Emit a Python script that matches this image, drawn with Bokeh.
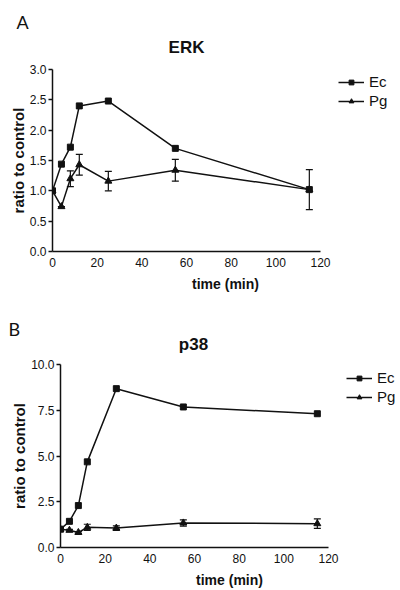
from bokeh.plotting import figure
from bokeh.models import (ColumnDataSource, Whisker, TeeHead, Legend, LegendItem,
                          Label, FixedTicker, NumeralTickFormatter)
from bokeh.layouts import column
from bokeh.embed import file_html
from bokeh.resources import INLINE

# ---------------- data ----------------
time_min = [0, 4, 8, 12, 25, 55, 115]

erk_ec = [1.00, 1.44, 1.72, 2.40, 2.48, 1.70, 1.02]
erk_pg = [1.00, 0.74, 1.20, 1.43, 1.16, 1.34, 1.02]
erk_pg_err = [0.0, 0.0, 0.13, 0.17, 0.16, 0.18, 0.33]

p38_ec = [1.00, 1.43, 2.29, 4.68, 8.68, 7.68, 7.31]
p38_pg = [1.00, 0.94, 0.82, 1.10, 1.06, 1.34, 1.30]
p38_pg_err = [0.0, 0.05, 0.05, 0.17, 0.12, 0.17, 0.26]

x_ticks = [0, 20, 40, 60, 80, 100, 120]
erk_y_ticks = [0.0, 0.5, 1.0, 1.5, 2.0, 2.5, 3.0]
p38_y_ticks = [0.0, 2.5, 5.0, 7.5, 10.0]

series_names = ["Ec", "Pg"]
panel_letters = ["A", "B"]
panel_titles = ["ERK", "p38"]

FONT = "Liberation Sans"
INK = "#111111"
W = 398
X_MAX = 120


def make_header(letter, title, height, letter_xy, title_xy):
    h = figure(width=W, height=height, x_range=(0, 1), y_range=(0, 1),
               x_axis_type=None, y_axis_type=None,
               output_backend="svg", toolbar_location=None,
               min_border_left=0, min_border_right=0,
               min_border_top=0, min_border_bottom=0, frame_align=False)
    h.outline_line_color = None
    h.grid.grid_line_color = None
    h.add_layout(Label(x=letter_xy[0], y=letter_xy[1], x_units="screen", y_units="screen",
                       text=letter, text_font="Lato", text_font_size="18px",
                       text_baseline="alphabetic", text_color=INK))
    h.add_layout(Label(x=title_xy[0], y=title_xy[1], x_units="screen", y_units="screen",
                       text=title, text_font=FONT, text_font_style="bold",
                       text_font_size="17px", text_align="center",
                       text_baseline="alphabetic", text_color=INK))
    return h


def make_panel(ec, pg, pg_err, y_ticks, y_max, height, left, axis_right,
               top, bottom, ylab_standoff, legend_xy):
    # frame spans to the figure's right edge; the x axis line stops at 120
    x_end = X_MAX * (W - left) / (axis_right - left)
    p = figure(width=W, height=height, x_range=(0, x_end), y_range=(0, y_max),
               output_backend="svg", toolbar_location=None,
               min_border_left=left, min_border_right=0,
               min_border_top=top, min_border_bottom=bottom, frame_align=False)
    p.outline_line_color = None
    p.grid.grid_line_color = None
    p.background_fill_color = "white"
    p.border_fill_color = "white"

    for ax in (p.xaxis[0], p.yaxis[0]):
        ax.axis_line_color = INK
        ax.axis_line_width = 1.5
        ax.major_tick_line_color = INK
        ax.major_tick_line_width = 1.5
        ax.minor_tick_line_color = None
        ax.major_label_text_font = FONT
        ax.major_label_text_font_size = "12px"
        ax.major_label_text_color = INK
        ax.axis_label_text_font = FONT
        ax.axis_label_text_font_style = "bold"
        ax.axis_label_text_font_size = "15px"
        ax.axis_label_text_color = INK

    p.xaxis.bounds = (0, X_MAX)
    p.xaxis.ticker = FixedTicker(ticks=x_ticks)
    p.xaxis.major_tick_out = 0
    p.xaxis.major_tick_in = 0
    p.xaxis.major_label_standoff = 6
    p.xaxis.axis_label = "time (min)"
    p.xaxis.axis_label_text_font_size = "14px"
    p.xaxis.axis_label_standoff = 6

    p.yaxis.ticker = FixedTicker(ticks=y_ticks)
    p.yaxis.formatter = NumeralTickFormatter(format="0.0")
    p.yaxis.major_tick_out = 4
    p.yaxis.major_tick_in = 0
    p.yaxis.major_label_standoff = 2
    p.yaxis.axis_label = "ratio to control"
    p.yaxis.axis_label_standoff = ylab_standoff

    lo = [v - e for v, e in zip(pg, pg_err)]
    hi = [v + e for v, e in zip(pg, pg_err)]
    src_err = ColumnDataSource(dict(x=time_min, lower=lo, upper=hi))
    wh = Whisker(base="x", lower="lower", upper="upper", source=src_err,
                 line_color=INK, line_width=1.2,
                 upper_head=TeeHead(size=7, line_color=INK, line_width=1.2),
                 lower_head=TeeHead(size=7, line_color=INK, line_width=1.2))
    p.add_layout(wh)

    ec_line = p.line(time_min, ec, line_color=INK, line_width=1.5)
    ec_mark = p.scatter(time_min, ec, marker="square", size=6,
                        fill_color=INK, line_color=INK)
    pg_line = p.line(time_min, pg, line_color=INK, line_width=1.5)
    pg_mark = p.scatter(time_min, pg, marker="triangle", size=7,
                        fill_color=INK, line_color=INK)

    legend = Legend(items=[LegendItem(label=series_names[0], renderers=[ec_line, ec_mark]),
                           LegendItem(label=series_names[1], renderers=[pg_line, pg_mark])],
                    location=legend_xy, padding=0, margin=0, spacing=2,
                    label_height=17, glyph_height=12, glyph_width=26,
                    label_standoff=5, border_line_color=None,
                    background_fill_alpha=0,
                    label_text_font=FONT, label_text_font_size="15px",
                    label_text_color=INK)
    p.add_layout(legend, "center")
    return p


ha = make_header(panel_letters[0], panel_titles[0], 60, (16, 39), (186, 13))
pa = make_panel(erk_ec, erk_pg, erk_pg_err, erk_y_ticks, 3.0,
                235, 52, 320, 9, 44, 0, (286, 142))
hb = make_header(panel_letters[1], panel_titles[1], 60, (8, 27), (193, 11))
pb = make_panel(p38_ec, p38_pg, p38_pg_err, p38_y_ticks, 10.0,
                235, 60, 328, 9, 43, 0, (286, 142))

layout = column(ha, pa, hb, pb, spacing=0)
open("out.html", "w").write(file_html(layout, INLINE))
